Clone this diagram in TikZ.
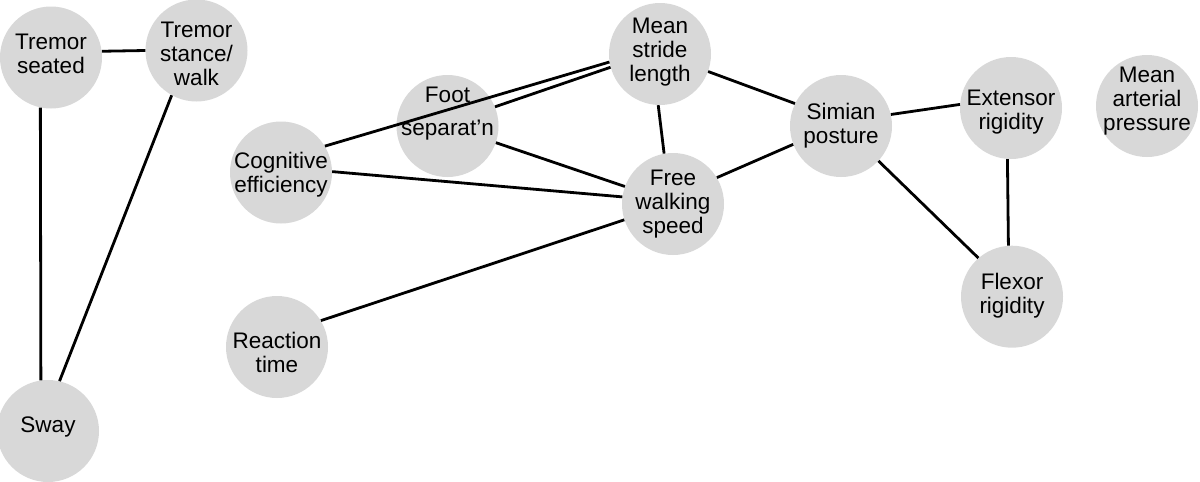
\documentclass[tikz,border=0pt]{standalone}
\usepackage{fontspec}
\setmainfont{Liberation Sans}
\definecolor{nodegray}{RGB}{216,216,216}
\begin{document}
\begin{tikzpicture}[x=1pt,y=-1pt,
  vnode/.style={circle,fill=nodegray,minimum size=102pt,inner sep=0pt},
  txt/.style={font=\fontsize{22.5}{24}\selectfont,align=center,inner sep=0pt},
  link/.style={line width=2.8pt}]
\useasboundingbox (0,0) rectangle (1200,482);
\node[vnode,label={[txt,yshift=4pt]center:{Tremor\\seated}}] (S) at (51,57.5) {};
\node[vnode,label={[txt,yshift=-3.3pt]center:{Tremor\\stance/\\walk}}] (T) at (196.5,50.5) {};
\node[vnode,label={[txt,yshift=4pt]center:{Sway}}] (W) at (48,431) {};
\node[vnode,label={[txt,yshift=-1.7pt]center:{Cognitive\\efficiency}}] (C) at (281,172.5) {};
\node[vnode,label={[txt,yshift=12.2pt]center:{Foot\\[9.3pt]separat’n}}] (F) at (447.5,126) {};
\node[vnode,label={[txt,yshift=-5pt]center:{Reaction\\time}}] (R) at (277,347) {};
\node[vnode,label={[txt,yshift=1.5pt]center:{Mean\\stride\\length}}] (M) at (660,54) {};
\node[vnode,label={[txt,yshift=-0.5pt]center:{Free\\walking\\speed}}] (V) at (673,204) {};
\node[vnode,label={[txt]center:{Simian\\posture}}] (P) at (841,126) {};
\node[vnode,label={[txt,yshift=-4.5pt]center:{Extensor\\rigidity}}] (E) at (1011,108) {};
\node[vnode,label={[txt,yshift=5pt]center:{Mean\\arterial\\pressure}}] (A) at (1147,106) {};
\node[vnode,label={[txt,yshift=1pt]center:{Flexor\\rigidity}}] (X) at (1012,296.7) {};
\draw[link] (S.7.7) -- (T.180);
\draw[link] (S.258.7) -- (W.98);
\draw[link] (T.241.8) -- (W.77.8);
\draw[link] (C.31.4) -- (M.189.5);
\draw[link] (F.22.6) -- (M.195.2);
\draw[link] (F.341.2) -- (V.160.5);
\draw[link] (C.1) -- (V.172);
\draw[link] (M.268) -- (V.100);
\draw[link] (M.340.2) -- (P.154.4);
\draw[link] (V.31) -- (P.201.6);
\draw[link] (R.31.9) -- (V.198.4);
\draw[link] (P.13.8) -- (E.176.6);
\draw[link] (P.317.4) -- (X.131.9);
\draw[link] (E.266.6) -- (X.94.5);
\end{tikzpicture}
\end{document}
